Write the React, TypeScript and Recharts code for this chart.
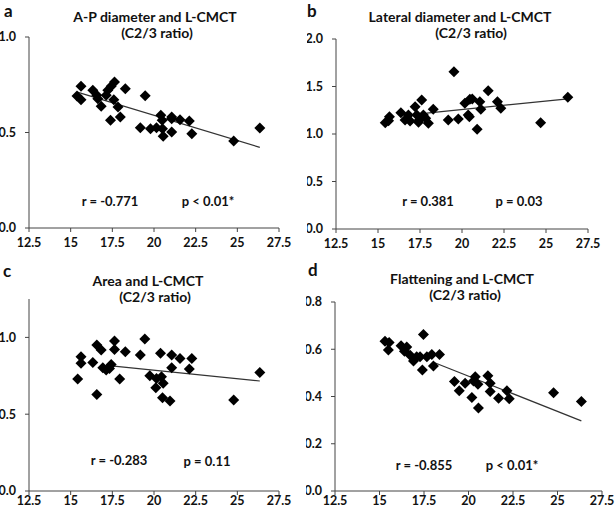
import { ScatterChart, Scatter, XAxis, YAxis } from 'recharts'

// L-CMCT on x, C2/3 ratio on y
const X_TICKS = [12.5, 15, 17.5, 20, 22.5, 25, 27.5]

const apPoints: [number, number][] = [
  [15.38, 0.691], [15.62, 0.742], [15.62, 0.672], [16.33, 0.721], [16.57, 0.695],
  [16.63, 0.677], [16.83, 0.637], [17.13, 0.695], [17.23, 0.721], [17.43, 0.742],
  [17.63, 0.764], [17.59, 0.672], [17.39, 0.564], [17.84, 0.634], [17.98, 0.581],
  [18.28, 0.729], [19.18, 0.525], [19.47, 0.693], [19.79, 0.52], [20.15, 0.525],
  [20.41, 0.59], [20.49, 0.564], [20.51, 0.52], [20.55, 0.48], [21.06, 0.581],
  [21.06, 0.572], [21.06, 0.503], [21.56, 0.567], [22.12, 0.56], [22.27, 0.494],
  [24.78, 0.455], [26.35, 0.524],
]
const apFit: [number, number][] = [[15.4, 0.711], [26.35, 0.422]]

const latPoints: [number, number][] = [
  [15.43, 1.119], [15.68, 1.182], [15.63, 1.14], [16.36, 1.224], [16.61, 1.147],
  [16.81, 1.2], [16.91, 1.137], [17.21, 1.287], [17.31, 1.2], [17.41, 1.123],
  [17.46, 1.147], [17.6, 1.358], [17.7, 1.2], [17.84, 1.165], [18.0, 1.112],
  [18.29, 1.26], [19.18, 1.147], [19.52, 1.656], [19.78, 1.158], [20.17, 1.323],
  [20.37, 1.2], [20.44, 1.182], [20.47, 1.365], [20.61, 1.368], [20.9, 1.049],
  [21.06, 1.34], [21.12, 1.26], [21.56, 1.456], [22.11, 1.34], [22.31, 1.27],
  [24.68, 1.119], [26.3, 1.386],
]
const latFit: [number, number][] = [[17.9, 1.22], [26.3, 1.37]]

const areaPoints: [number, number][] = [
  [15.42, 0.729], [15.62, 0.874], [15.62, 0.831], [16.33, 0.837], [16.57, 0.95],
  [16.57, 0.629], [16.83, 0.918], [16.93, 0.803], [17.13, 0.787], [17.33, 0.798],
  [17.43, 0.824], [17.63, 0.976], [17.63, 0.922], [17.94, 0.729], [18.28, 0.907],
  [19.18, 0.885], [19.45, 0.989], [19.75, 0.751], [20.11, 0.672], [20.15, 0.733],
  [20.39, 0.896], [20.45, 0.744], [20.55, 0.701], [20.51, 0.607], [20.96, 0.586],
  [21.06, 0.885], [21.06, 0.803], [21.56, 0.863], [22.12, 0.794], [22.27, 0.863],
  [24.78, 0.592], [26.35, 0.772],
]
const areaFit: [number, number][] = [[17.6, 0.813], [26.35, 0.716]]

const flatPoints: [number, number][] = [
  [15.31, 0.634], [15.54, 0.629], [15.5, 0.597], [16.21, 0.615], [16.4, 0.592],
  [16.53, 0.61], [16.72, 0.575], [16.91, 0.55], [17.09, 0.568], [17.28, 0.568],
  [17.41, 0.512], [17.47, 0.662], [17.66, 0.568], [17.94, 0.578], [18.03, 0.529],
  [18.37, 0.578], [19.21, 0.463], [19.48, 0.424], [19.81, 0.456], [20.19, 0.396],
  [20.28, 0.466], [20.38, 0.484], [20.53, 0.452], [20.56, 0.351], [21.09, 0.488],
  [21.22, 0.456], [21.22, 0.421], [21.69, 0.393], [22.16, 0.424], [22.29, 0.39],
  [24.78, 0.416], [26.34, 0.379],
]
const flatFit: [number, number][] = [[18.1, 0.543], [26.34, 0.297]]

const toRows = (pts: [number, number][]) => pts.map(([x, y]) => ({ x, y }))

const INK = '#111'
const AXIS = '#444'

function Diamond(props: any) {
  const { cx, cy } = props
  if (cx == null || cy == null) return <g />
  const r = 5.5
  return <path d={`M${cx},${cy - r}L${cx + r},${cy}L${cx},${cy + r}L${cx - r},${cy}Z`} fill="#000" />
}

interface PanelProps {
  left: number
  top: number
  width: number
  height: number
  margin: { top: number; right: number; bottom: number; left: number }
  xTickGap: number
  yDomain: [number, number]
  yTicks: number[]
  points: [number, number][]
  fit: [number, number][]
}

function Panel({ left, top, width, height, margin, xTickGap, yDomain, yTicks, points, fit }: PanelProps) {
  const tickStyle = { fontSize: 12.5, fontWeight: 700, fill: INK }
  return (
    <div style={{ position: 'absolute', left, top }}>
      <ScatterChart width={width} height={height} margin={margin}>
        <XAxis
          dataKey="x" type="number" domain={[12.5, 27.5]} ticks={X_TICKS} interval={0}
          height={20} tickSize={4} tickMargin={xTickGap}
          axisLine={{ stroke: AXIS }} tickLine={{ stroke: AXIS }} tick={tickStyle}
          tickFormatter={(v) => String(v)}
        />
        <YAxis
          dataKey="y" type="number" domain={yDomain} ticks={yTicks} interval={0}
          width={29} tickSize={4} tickMargin={9}
          axisLine={{ stroke: AXIS }} tickLine={{ stroke: AXIS }} tick={tickStyle}
          tickFormatter={(v) => Number(v).toFixed(1)}
        />
        <Scatter
          data={toRows(fit)} line={{ stroke: '#333', strokeWidth: 1.2 }}
          shape={() => <g />} isAnimationActive={false}
        />
        <Scatter data={toRows(points)} shape={Diamond} isAnimationActive={false} />
      </ScatterChart>
    </div>
  )
}

function Txt({ x, y, size, children, center = true }: { x: number; y: number; size: number; children: string; center?: boolean }) {
  return (
    <div
      style={{
        position: 'absolute', left: x, top: y, fontSize: size, fontWeight: 700, color: INK,
        lineHeight: 1, whiteSpace: 'nowrap',
        transform: center ? 'translate(-50%, -50%)' : 'translate(0, -50%)',
      }}
    >
      {children}
    </div>
  )
}

export default function App() {
  return (
    <div
      style={{
        position: 'absolute', left: 0, top: 0, width: 615, height: 511,
        background: '#fff', fontFamily: 'Lato, "Open Sans", sans-serif', overflow: 'hidden',
      }}
    >
      <Panel
        left={0} top={0} width={300} height={255} xTickGap={6}
        margin={{ top: 37, right: 21, bottom: 7, left: 0 }}
        yDomain={[0, 1]} yTicks={[0, 0.5, 1]} points={apPoints} fit={apFit}
      />
      <Panel
        left={307} top={0} width={308} height={255} xTickGap={6}
        margin={{ top: 39, right: 27, bottom: 6, left: 0 }}
        yDomain={[0, 2]} yTicks={[0, 0.5, 1, 1.5, 2]} points={latPoints} fit={latFit}
      />
      <Panel
        left={0} top={255} width={300} height={256} xTickGap={1}
        margin={{ top: 44, right: 21, bottom: 0, left: 0 }}
        yDomain={[0, 1.25]} yTicks={[0, 0.5, 1]} points={areaPoints} fit={areaFit}
      />
      <Panel
        left={306} top={255} width={309} height={256} xTickGap={1}
        margin={{ top: 47, right: 13, bottom: 0, left: 0 }}
        yDomain={[0, 0.8]} yTicks={[0, 0.2, 0.4, 0.6, 0.8]} points={flatPoints} fit={flatFit}
      />

      <Txt x={4} y={10} size={17} center={false}>a</Txt>
      <Txt x={155} y={17} size={14}>A-P diameter and L-CMCT</Txt>
      <Txt x={157} y={33} size={14}>(C2/3 ratio)</Txt>
      <Txt x={110} y={201} size={13}>r = -0.771</Txt>
      <Txt x={208} y={201} size={13}>p &lt; 0.01*</Txt>

      <Txt x={307} y={10} size={17} center={false}>b</Txt>
      <Txt x={460} y={17} size={14}>Lateral diameter and L-CMCT</Txt>
      <Txt x={471} y={33} size={14}>(C2/3 ratio)</Txt>
      <Txt x={428} y={201} size={13}>r = 0.381</Txt>
      <Txt x={519} y={201} size={13}>p = 0.03</Txt>

      <Txt x={3} y={270} size={17} center={false}>c</Txt>
      <Txt x={148} y={281} size={14}>Area and L-CMCT</Txt>
      <Txt x={155} y={297} size={14}>(C2/3 ratio)</Txt>
      <Txt x={119} y={460} size={13}>r = -0.283</Txt>
      <Txt x={207} y={461} size={13}>p = 0.11</Txt>

      <Txt x={308} y={269} size={17} center={false}>d</Txt>
      <Txt x={462} y={279} size={14}>Flattening and L-CMCT</Txt>
      <Txt x={465} y={295} size={14}>(C2/3 ratio)</Txt>
      <Txt x={424} y={465} size={13}>r = -0.855</Txt>
      <Txt x={512} y={465} size={13}>p &lt; 0.01*</Txt>
    </div>
  )
}
